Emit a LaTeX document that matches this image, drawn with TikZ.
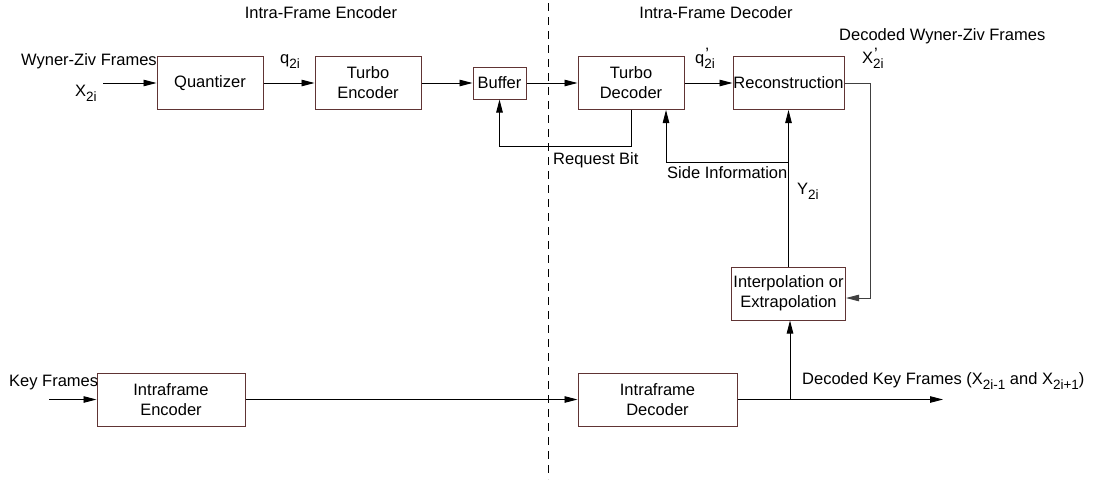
\documentclass[tikz,border=0pt]{standalone}
\usepackage{fontspec}
\setmainfont{Liberation Sans}
\usetikzlibrary{arrows.meta,calc}
\definecolor{boxline}{RGB}{96,52,52}
% lowered subscript and straight prime, as in the drawing's labels
\newcommand{\sbs}[1]{\raisebox{-0.36em}{\fontsize{13.5}{14}\selectfont #1}}
\newcommand{\pr}{\rlap{\kern1pt\raisebox{0.22em}{\char"27}}}
\begin{document}
\begin{tikzpicture}[x=1pt,y=-1pt,
  every node/.style={font=\fontsize{16.5}{20}\selectfont},
  blk/.style={draw=boxline,line width=1pt,inner sep=0pt,align=center,minimum height=53pt},
  arr/.style={draw=black,line width=0.9pt,-{Triangle[length=13pt,width=6.5pt]}},
  lbl/.style={anchor=base west,inner sep=0pt}]
\useasboundingbox (0,0) rectangle (1097,479);

% divider between encoder and decoder
\draw[line width=0.9pt,dash pattern=on 8pt off 6pt] (548,3) -- (548,479);
\node (enctitle) at (321,13) {Intra-Frame Encoder};
\node (dectitle) at (716,13) {Intra-Frame Decoder};

% Wyner-Ziv branch
\node[blk,minimum width=106pt] (quant) at (210,83) {Quantizer};
\node[blk,minimum width=106pt] (tenc) at (368,83) {Turbo\\Encoder};
\node[blk,minimum width=53pt,minimum height=32pt] (buf) at (499.5,83) {Buffer};
\node[blk,minimum width=106pt] (tdec) at (631,83) {Turbo\\Decoder};
\node[blk,minimum width=111pt] (rec) at (788.5,83) {Reconstruction};
\node[blk,minimum width=114pt] (interp) at (788.5,293.5) {Interpolation or\\Extrapolation};

% key frame branch
\node[blk,minimum width=148pt] (ienc) at (171,399.5) {Intraframe\\Encoder};
\node[blk,minimum width=159pt] (idec) at (657.5,399.5) {Intraframe\\Decoder};

% inputs and outputs
\coordinate (wzin) at (103,83);
\coordinate (kfin) at (49,399.5);
\coordinate (kfout) at (943,399.5);
\coordinate (kfsplit) at (790,399.5);
\coordinate (sisplit) at (788.5,162);

\draw[arr] (wzin) -- (quant);
\draw[arr] (quant) -- (tenc);
\draw[arr] (tenc) -- (buf);
\draw[arr] (buf) -- (tdec);
\draw[arr] (tdec) -- (rec);

% request bit feedback
\draw[arr] (tdec.south) -- ++(0,36) -| (buf.south);

% side information
\draw[arr] (interp.north) -- (rec.south);
\draw[arr] (sisplit) -| ($(tdec.south)+(35,0)$);

% decoded frame fed back to interpolation
\draw[arr,draw=black!75] (rec.east) -- ++(26,0) |- ($(interp.east)+(0,4.5)$);

% key frames
\draw[arr] (kfin) -- (ienc);
\draw[arr] (ienc) -- (idec);
\draw[arr] (idec.east) -- (kfout);
\draw[arr] (kfsplit) -- (kfsplit |- interp.south);

% labels
\node[lbl] (wzlbl) at (21,65) {Wyner-Ziv Frames};
\node[lbl] (xlbl) at (75,96) {X\sbs{2i}};
\node[lbl] (qlbl) at (280,63) {q\sbs{2i}};
\node[lbl] (qplbl) at (695,63) {q\pr\sbs{2i}};
\node[lbl] (reqlbl) at (553,164) {Request Bit};
\node[lbl] (silbl) at (667,178) {Side Information};
\node[lbl] (ylbl) at (797,194) {Y\sbs{2i}};
\node[lbl] (dwzlbl) at (839,40) {Decoded Wyner-Ziv Frames};
\node[lbl] (xplbl) at (862,63) {X\pr\sbs{2i}};
\node[lbl] (kflbl) at (9,386) {Key Frames};
\node[lbl] (dkflbl) at (802,384) {Decoded Key Frames (X\sbs{2i-1} and X\sbs{2i+1})};
\end{tikzpicture}
\end{document}
